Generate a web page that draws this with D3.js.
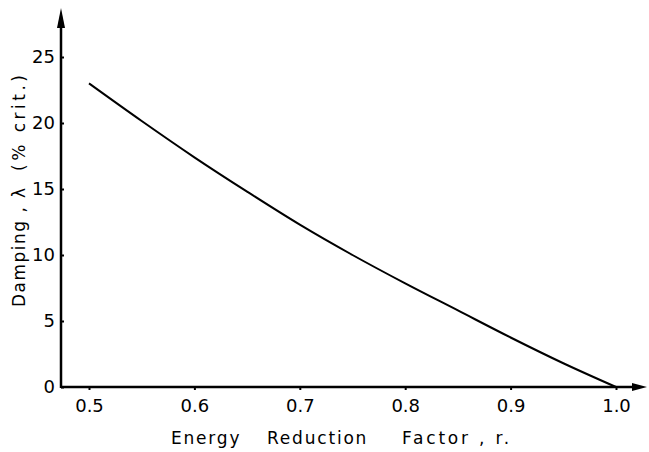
<!DOCTYPE html>
<html>
<head>
<meta charset="utf-8">
<script src="https://cdn.jsdelivr.net/npm/d3@7"></script>
<style>
  body { margin: 0; background: #fff; }
  svg { display: block; font-family: "DejaVu Sans", sans-serif; }
</style>
</head>
<body>
<div id="chart"></div>
<script>
// energy reduction factor r vs damping (% crit.)
const rValues = [0.5, 0.55, 0.6, 0.65, 0.7, 0.75, 0.8, 0.85, 0.9, 0.95, 1.0];
const damping = [23.0, 20.15, 17.4, 14.8, 12.3, 10.0, 7.85, 5.8, 3.75, 1.8, 0];
const xTicks = [0.5, 0.6, 0.7, 0.8, 0.9, 1.0];
const yTicks = [0, 5, 10, 15, 20, 25];

const width = 649, height = 452;
const svg = d3.select('#chart').append('svg')
  .attr('width', width).attr('height', height);

const x = d3.scaleLinear().domain([0.5, 1.0]).range([89, 616]);
const y = d3.scaleLinear().domain([0, 25]).range([387, 57]);
const x0 = 61;           // y axis position
const y0 = y(0);         // x axis position

// axes lines
svg.append('line').attr('x1', x0).attr('x2', 636).attr('y1', y0).attr('y2', y0)
  .attr('stroke', '#000').attr('stroke-width', 2.5);
svg.append('line').attr('x1', x0).attr('x2', x0).attr('y1', y0 + 1).attr('y2', 20)
  .attr('stroke', '#000').attr('stroke-width', 2.5);

// arrow heads
svg.append('path').attr('d', `M647,${y0} L632,${y0 - 4} L632,${y0 + 4} Z`).attr('fill', '#000');
svg.append('path').attr('d', `M${x0},8 L${x0 - 4},28 L${x0 + 4},28 Z`).attr('fill', '#000');

// ticks
const xAxis = d3.axisBottom(x).tickValues(xTicks).tickSize(3).tickPadding(9)
  .tickFormat(d3.format('.1f'));
const gx = svg.append('g').attr('transform', `translate(0,${y0})`).call(xAxis);
gx.select('.domain').remove();
gx.selectAll('line').attr('stroke-width', 2);
gx.selectAll('text').attr('font-size', 18).attr('fill', '#000').attr('font-family', 'DejaVu Sans');

const yAxis = d3.axisLeft(y).tickValues(yTicks).tickSize(-3).tickPadding(6);
const gy = svg.append('g').attr('transform', `translate(${x0},0)`).call(yAxis);
gy.select('.domain').remove();
gy.selectAll('line').attr('stroke-width', 2);
gy.selectAll('text').attr('font-size', 18).attr('fill', '#000').attr('font-family', 'DejaVu Sans');

// curve
const line = d3.line().x((d, i) => x(rValues[i])).y(d => y(d)).curve(d3.curveCatmullRom);
svg.append('path').datum(damping).attr('d', line)
  .attr('fill', 'none').attr('stroke', '#000').attr('stroke-width', 2);

// axis titles
const xt = svg.append('text').attr('y', 444).attr('font-size', 17).attr('letter-spacing', 1.8);
xt.append('tspan').attr('x', 171).text('Energy');
xt.append('tspan').attr('x', 267).text('Reduction');
xt.append('tspan').attr('x', 402).attr('letter-spacing', 2.8).text('Factor , r.');

const yt = svg.append('text').attr('transform', 'translate(25,0) rotate(-90)')
  .attr('font-size', 17).attr('letter-spacing', 1.5);
yt.append('tspan').attr('x', -307).text('Damping ,');
yt.append('tspan').attr('x', -198).text('λ');
yt.append('tspan').attr('x', -171).attr('letter-spacing', 3.5).text('(% crit.)');
</script>
</body>
</html>
